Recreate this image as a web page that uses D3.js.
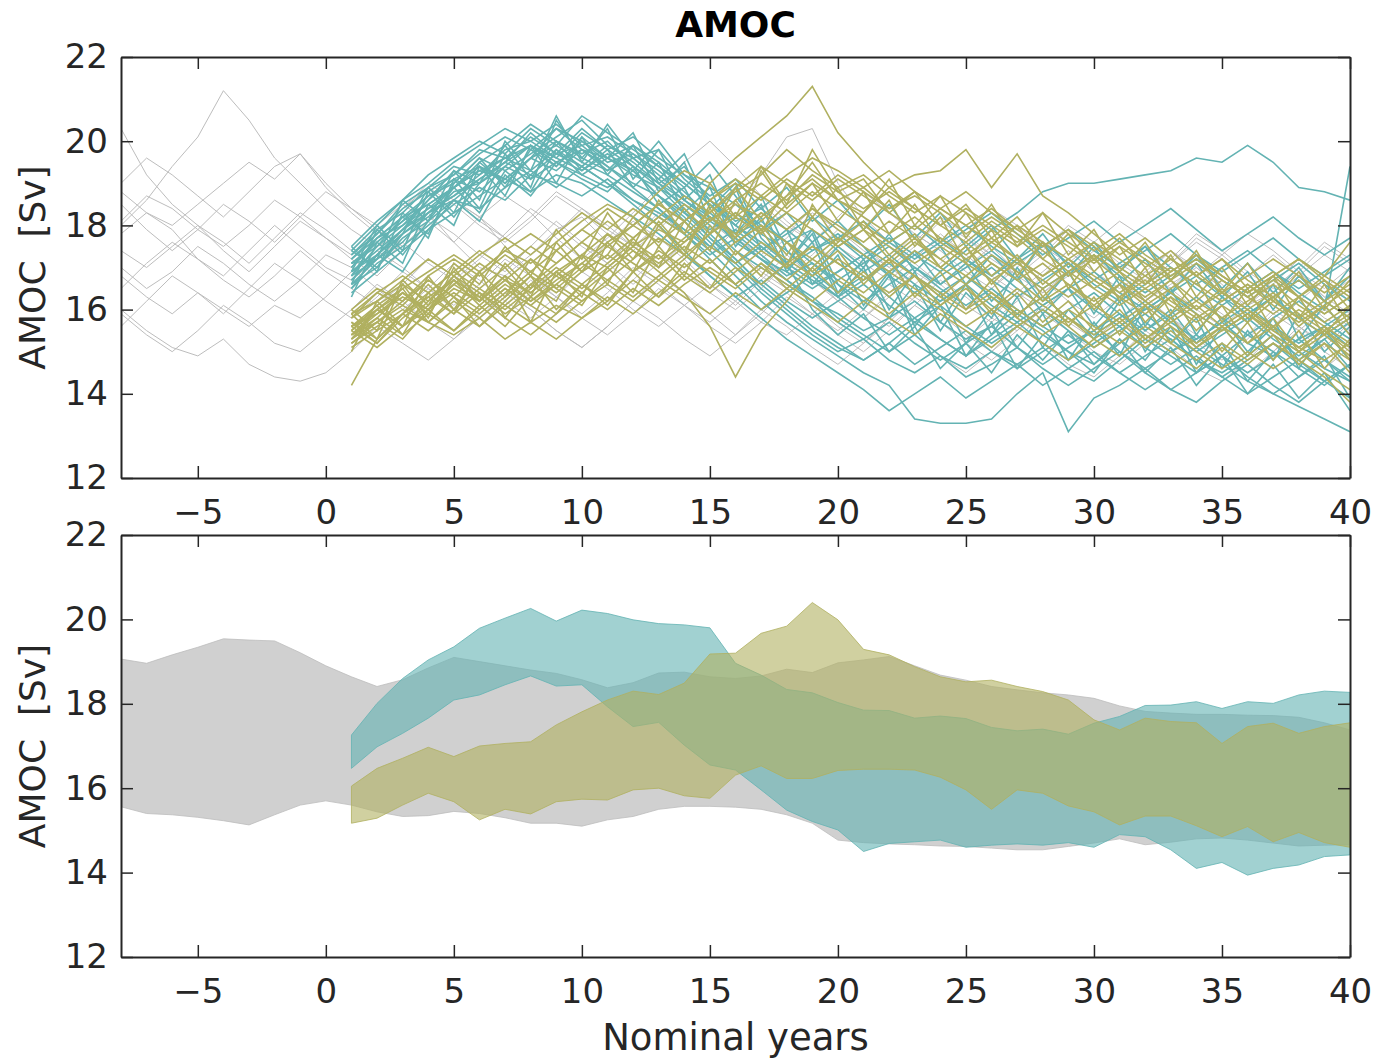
<!DOCTYPE html>
<html>
<head>
<meta charset="utf-8">
<script src="https://cdnjs.cloudflare.com/ajax/libs/d3/7.8.5/d3.min.js"></script>
<style>
  body { margin: 0; background: #fff; }
  svg { display: block; font-family: "DejaVu Sans", sans-serif; }
</style>
</head>
<body>
<div id="chart"></div>
<script>
// ---- data (AMOC, Sv) ----
var controlYears = d3.range(-8, 41);   // -8 .. 40
var runYears = d3.range(1, 41);        // 1 .. 40

var xTicks = [-5, 0, 5, 10, 15, 20, 25, 30, 35, 40];
var yTicks = [12, 14, 16, 18, 20, 22];

// control ensemble (grey), years -8..40
var controlRuns = [
  [18.0,18.6,19.4,20.1,21.2,20.5,19.6,19.0,18.4,17.9, 17.5,17.8,18.3,17.6,17.0,16.8,17.3,17.9,18.2,17.6, 17.1,16.7,17.2,17.8,18.5,19.2,20.1,20.3,19.0,18.2, 17.6,17.1,16.6,17.0,17.5,16.9,16.4,16.8,17.3,16.7, 16.2,16.6,17.0,16.5,16.1,16.4,16.9,16.3,15.9],
  [20.3,19.2,18.5,18.0,17.4,16.9,17.5,18.1,17.7,17.2, 16.8,17.4,17.9,18.6,18.2,17.5,16.9,16.4,16.9,17.6, 18.1,17.7,17.2,16.6,16.1,16.7,17.3,16.8,16.2,15.8, 16.4,17.0,16.6,16.1,15.7,16.2,16.8,17.4,16.9,16.3, 15.9,16.5,17.1,16.6,16.0,15.6,16.2,16.7,16.2],
  [16.0,15.5,15.1,14.9,15.3,14.7,14.4,14.3,14.5,15.0, 15.6,15.2,14.8,15.3,15.9,16.4,16.0,15.5,15.1,15.6, 16.2,16.8,16.4,15.9,15.4,15.9,16.5,16.1,15.6,15.2, 15.7,16.3,15.9,15.4,15.0,15.5,16.1,15.7,15.3,15.8, 16.3,15.8,15.2,14.8,15.3,15.9,15.5,15.0,14.6],
  [17.8,18.3,17.9,17.2,16.8,17.4,18.0,17.5,17.0,16.7, 17.2,17.7,18.2,17.8,17.3,16.9,17.5,18.1,17.6,17.1, 16.6,17.1,17.6,18.0,17.4,16.9,16.5,17.0,17.5,17.1, 16.7,17.2,17.8,17.3,16.8,16.4,16.9,17.4,16.9,16.5, 16.9,17.4,16.9,16.4,16.8,17.3,16.8,16.3,16.7],
  [19.0,19.6,19.2,18.7,18.2,18.8,19.4,19.7,19.0,18.4, 18.0,18.5,18.1,17.6,18.2,18.7,18.3,17.7,17.2,17.7, 18.3,18.9,19.5,20.0,19.4,18.7,18.1,17.6,18.2,18.8, 18.3,17.8,17.4,17.9,18.4,18.0,17.5,17.1,17.6,18.1, 17.7,17.2,16.8,17.3,17.8,17.4,16.9,16.5,17.0],
  [17.0,16.5,16.9,17.5,17.1,16.6,16.2,16.7,17.3,17.0, 16.5,16.0,16.5,17.1,16.7,16.2,15.8,16.3,16.9,16.5, 16.0,15.6,16.1,16.6,16.2,15.7,15.4,15.9,16.4,16.0, 15.6,16.1,16.7,16.3,15.8,15.5,16.0,16.5,16.1,15.7, 15.3,15.8,16.3,15.9,15.4,15.0,15.5,16.0,15.6],
  [18.5,17.9,17.4,17.9,18.5,18.1,17.6,18.2,18.8,18.4, 17.9,17.5,18.1,18.6,18.2,17.7,17.3,17.8,18.4,18.0, 17.5,17.0,17.6,18.1,17.7,17.2,16.8,17.3,17.9,17.5, 17.0,16.6,17.1,17.7,17.3,16.8,16.4,16.9,17.4,17.0, 16.6,17.1,17.6,17.2,16.7,16.3,16.8,17.3,16.9],
  [15.6,16.2,16.8,16.4,15.9,16.5,17.1,16.7,16.2,15.8, 16.3,16.9,16.5,16.0,15.6,16.1,16.7,16.3,15.8,15.4, 15.9,16.5,16.1,15.6,15.2,15.7,16.3,15.9,15.4,15.0, 15.5,16.1,15.7,15.2,14.8,15.3,15.9,15.5,15.0,14.7, 15.2,15.8,15.4,14.9,14.5,15.0,15.6,15.2,14.8],
  [17.4,17.0,17.5,18.0,17.6,17.1,17.7,18.3,17.9,17.4, 17.0,17.6,17.1,16.7,17.2,17.8,18.4,18.0,17.5,17.1, 17.7,18.3,17.8,17.3,17.9,18.5,18.0,17.6,17.1,16.7, 17.2,17.8,17.4,16.9,16.5,17.0,17.6,17.2,16.7,16.3, 16.8,17.4,17.0,16.5,16.1,16.6,17.2,16.8,16.4],
  [16.5,17.1,17.6,17.2,16.7,16.3,16.8,17.4,16.9,16.5, 16.1,16.6,17.2,16.8,16.3,15.9,16.4,17.0,16.6,16.2, 16.7,17.3,16.9,16.4,16.0,16.5,17.1,16.7,16.2,15.8, 16.3,16.9,16.5,16.0,16.5,17.1,16.7,16.2,15.8,16.3, 16.9,16.5,16.0,15.6,16.1,16.7,16.3,15.8,15.5],
  [18.8,18.3,18.0,18.5,19.0,19.5,19.1,19.7,18.9,18.3, 17.8,18.4,18.9,18.5,18.0,17.6,18.1,18.7,18.3,17.8, 17.4,17.9,18.5,18.1,17.6,17.2,17.7,18.3,17.9,17.4, 17.0,17.5,18.1,17.7,17.2,16.8,17.3,17.9,17.5,17.0, 16.6,17.1,17.7,17.3,16.8,16.4,16.9,17.5,17.1],
  [16.8,16.3,15.9,16.4,16.0,15.6,16.1,15.8,16.3,16.9, 17.4,17.0,16.5,16.1,16.6,17.2,16.8,16.3,15.9,16.4, 17.0,16.6,16.1,15.7,16.2,16.8,16.4,15.9,15.5,16.0, 16.6,16.2,15.7,15.3,15.8,16.4,16.0,15.5,15.1,15.6, 16.2,15.8,15.3,14.9,15.4,16.0,15.6,15.1,15.7],
  [18.1,18.7,18.4,17.9,17.5,18.0,18.6,18.2,17.7,17.3, 17.8,18.4,19.0,18.6,18.1,17.7,18.2,18.8,18.4,17.9, 17.5,18.0,18.6,18.2,17.7,17.3,17.8,18.4,18.0,17.5, 17.1,17.6,18.2,17.8,17.3,16.9,17.4,18.0,17.6,17.1, 16.7,17.2,17.8,17.4,16.9,16.5,17.0,17.6,17.2],
  [15.9,15.4,15.0,15.5,16.1,15.7,15.2,15.0,15.5,16.0, 16.6,16.2,15.7,15.3,15.8,16.4,16.0,15.5,15.1,15.6, 16.2,15.8,15.3,14.9,15.4,16.0,15.6,15.1,14.7,15.2, 15.8,15.4,14.9,14.5,15.0,15.6,15.2,14.7,14.4,14.9, 15.5,15.1,14.6,14.3,14.8,15.4,15.0,14.6,15.1]
];

// teal ensemble, years 1..40
var tealRuns = [
  [17.0,17.6,18.1,18.5,18.9,19.3,19.6,19.9,19.5,19.8, 19.6,19.2,18.9,18.5,18.0,17.4,17.0,16.6,16.2,15.9, 15.5,15.8,16.2,15.7,15.3,15.6,16.0,15.6,15.2,15.5, 15.9,15.4,15.0,15.3,15.7,15.2,14.9,15.3,15.6,15.1],
  [16.7,17.3,17.9,18.4,18.7,19.1,19.5,20.2,19.7,19.4, 19.9,19.5,19.0,18.4,17.7,17.1,16.5,16.0,15.5,15.1, 14.8,15.2,15.7,15.3,14.9,15.4,15.9,15.5,15.0,14.7, 15.2,15.7,15.3,14.8,14.5,14.9,15.4,15.0,14.6,14.3],
  [17.3,17.9,18.3,18.9,19.4,19.2,19.8,20.0,20.4,19.9, 20.1,19.7,19.3,18.8,18.2,17.6,17.2,16.9,16.5,16.9, 17.3,16.8,16.4,16.8,17.2,16.7,16.3,16.7,17.1,16.6, 16.2,16.6,17.0,16.5,16.1,16.5,16.9,16.4,16.0,19.4],
  [16.5,17.1,17.5,18.0,18.5,18.9,18.6,19.2,19.0,18.7, 19.1,18.6,18.2,17.8,17.3,17.7,17.2,16.7,16.3,15.8, 15.4,15.0,15.4,14.9,14.6,15.0,14.7,15.1,14.6,14.3, 14.8,15.3,14.9,14.5,14.9,15.4,15.0,14.6,14.2,14.7],
  [17.1,17.5,18.2,18.7,19.0,19.6,19.3,19.7,20.1,20.5, 19.9,19.6,19.8,19.1,18.6,18.1,18.4,17.9,17.4,17.7, 18.1,17.6,17.2,17.6,18.0,17.5,17.1,17.5,17.9,17.4, 17.0,17.4,17.8,17.3,16.9,17.3,17.7,17.2,16.8,17.2],
  [16.8,17.2,17.8,18.2,18.8,19.0,19.4,19.1,19.5,19.2, 18.9,19.3,18.7,18.2,17.6,17.0,16.4,15.9,15.4,15.0, 15.3,14.8,14.5,14.9,14.4,14.7,15.1,14.6,14.2,14.6, 15.0,14.5,14.1,14.5,14.9,14.4,14.0,14.4,14.8,14.3],
  [17.4,18.0,18.6,19.0,19.5,19.9,20.3,20.0,19.6,20.2, 19.8,20.1,19.6,19.2,18.9,18.5,18.0,17.6,17.9,17.4, 16.9,17.3,16.8,16.4,16.8,16.3,15.9,16.3,15.8,15.4, 15.8,16.2,15.7,15.3,15.7,16.1,15.6,15.2,15.6,16.0],
  [16.6,17.0,17.7,18.1,18.6,18.4,18.9,19.3,18.9,19.4, 19.0,18.6,18.3,17.9,17.4,16.8,16.2,15.7,15.3,14.9, 14.5,14.2,13.4,13.3,13.3,13.4,14.0,14.5,13.1,13.9, 14.2,14.6,14.1,13.8,14.3,14.7,14.2,13.8,14.3,14.7],
  [17.2,17.8,18.4,18.8,19.2,19.7,20.1,19.8,20.3,20.0, 19.5,19.7,19.2,18.7,18.3,17.8,17.3,16.8,17.1,16.6, 16.2,16.6,17.0,16.5,16.1,16.5,16.0,15.6,16.0,16.4, 15.9,15.5,15.9,16.3,15.8,15.4,15.8,16.2,15.7,15.3],
  [16.9,17.4,17.9,18.6,19.1,18.8,19.4,19.9,19.6,19.3, 19.7,19.3,18.7,18.1,17.5,17.9,17.4,17.8,18.2,17.7, 17.2,17.6,18.0,17.5,17.9,18.3,17.8,17.3,17.7,18.1, 17.6,18.0,18.4,17.9,17.4,17.8,18.2,17.7,17.3,17.7],
  [17.0,17.7,18.0,18.4,18.9,19.4,19.0,19.6,19.9,19.5, 19.2,18.8,18.4,17.9,17.5,17.1,17.5,17.0,16.6,16.9, 17.3,17.7,17.3,16.9,17.4,17.9,18.3,18.8,19.0,19.0, 19.1,19.2,19.3,19.6,19.5,19.9,19.5,18.9,18.8,18.6],
  [16.6,17.2,17.6,18.3,18.7,19.2,19.6,19.3,19.8,19.4, 19.0,18.5,18.0,17.4,16.8,16.3,16.7,16.2,15.8,16.2, 16.6,16.1,15.7,16.1,15.6,15.2,15.6,16.0,15.5,15.1, 15.5,15.9,15.4,15.0,15.4,15.8,15.3,14.9,15.3,15.7],
  [17.2,17.7,18.2,18.5,18.9,19.5,19.9,20.4,20.0,19.7, 20.0,19.4,19.0,18.6,18.1,17.7,17.2,16.7,16.2,15.7, 15.3,15.7,15.2,14.8,15.2,15.6,15.1,14.7,15.1,15.5, 15.0,14.6,15.0,15.4,14.9,14.5,14.9,15.3,14.8,14.4],
  [16.8,17.5,18.0,18.6,19.3,19.0,19.5,19.2,19.7,19.9, 19.4,19.0,18.7,18.3,17.9,18.3,17.8,17.4,16.9,16.4, 16.8,16.3,15.8,16.2,16.6,16.1,15.7,16.1,16.5,16.0, 15.6,16.0,16.4,15.9,15.5,15.9,16.3,15.8,15.4,15.8],
  [17.1,17.6,18.1,18.7,19.1,19.4,19.1,19.6,19.3,19.8, 19.4,18.9,18.4,17.8,17.2,16.6,16.0,16.4,16.8,16.3, 15.8,15.4,15.8,15.3,14.9,15.3,15.7,15.2,14.8,15.2, 15.6,15.1,14.7,15.1,14.7,14.3,14.0,13.7,13.4,13.1],
  [16.9,17.3,17.9,18.3,18.6,19.1,19.5,19.9,19.4,20.0, 19.6,19.9,19.5,19.0,18.5,18.0,17.5,17.0,17.4,17.8, 17.3,16.9,17.3,17.7,17.2,16.8,17.2,17.6,17.1,16.7, 17.1,17.5,17.0,16.6,17.0,17.4,16.9,16.5,16.9,17.3],
  [17.3,17.8,18.5,18.9,19.2,19.8,19.6,20.1,19.7,20.3, 19.8,19.4,18.9,18.3,17.7,17.2,16.6,16.1,15.6,15.2, 14.8,15.2,14.7,15.1,15.5,15.0,14.6,15.0,15.4,14.9, 14.5,14.9,15.3,14.8,14.4,14.8,15.2,14.7,14.3,14.7],
  [16.7,17.3,17.8,18.3,18.9,19.3,19.1,19.6,20.0,19.6, 19.3,19.6,19.1,18.6,18.2,17.8,18.1,17.6,17.1,16.7, 17.1,17.5,17.0,16.6,17.0,17.4,16.9,16.5,16.9,17.3, 16.8,16.4,16.8,17.2,16.7,16.3,16.7,17.1,16.6,16.2],
  [17.5,18.1,18.6,19.2,19.6,20.0,19.7,20.3,19.9,20.6, 20.2,19.8,19.4,19.0,18.5,18.0,17.6,17.1,16.7,16.3, 16.7,17.1,16.6,16.2,16.6,17.0,16.5,16.1,16.5,16.9, 16.4,16.0,16.4,16.8,16.3,15.9,16.3,16.7,16.2,15.8],
  [16.4,16.9,17.4,17.9,18.3,18.7,19.1,18.8,19.2,19.0, 18.6,18.2,17.8,17.3,16.8,16.3,15.8,15.3,14.9,14.5, 14.1,13.6,14.0,14.4,13.9,14.3,14.7,14.2,14.6,15.0, 14.5,14.1,14.5,14.9,14.4,14.0,14.4,14.8,14.3,13.9],
  [16.3,17.6,17.1,18.5,18.0,19.4,18.7,19.9,19.0,20.1, 19.2,19.9,18.8,19.5,18.1,18.9,17.4,17.9,16.6,17.3, 16.1,16.9,15.6,16.4,15.2,16.0,15.1,15.9,14.8,15.7, 14.9,16.1,15.2,15.8,14.6,15.5,14.8,15.9,15.0,15.6],
  [17.5,16.9,18.3,17.7,19.1,18.4,19.7,18.9,20.5,19.6, 20.3,19.1,19.8,18.6,19.2,17.8,18.5,17.1,17.8,16.4, 17.2,16.0,16.9,15.7,16.6,15.4,16.3,15.1,16.0,15.3, 16.2,15.0,15.9,14.7,15.6,14.9,15.8,14.6,15.5,14.8],
  [16.9,18.0,17.4,18.8,18.2,19.0,19.9,19.1,20.0,19.3, 19.8,18.9,19.5,18.3,18.9,17.5,18.2,16.9,17.6,16.3, 17.0,15.8,16.6,15.5,16.4,15.8,17.0,16.2,16.9,15.9, 16.8,15.6,16.5,15.4,16.3,15.7,16.6,15.3,16.1,15.4],
  [17.1,17.2,18.6,18.1,19.3,18.6,20.0,19.3,20.6,19.5, 20.4,19.6,19.1,19.7,18.4,19.0,17.7,17.1,17.9,16.6, 16.0,16.8,15.4,16.1,14.9,15.7,14.6,15.4,15.0,14.5, 15.3,14.8,15.6,14.5,15.2,14.3,15.0,14.4,14.9,13.9],
  [16.6,17.9,17.3,18.1,18.9,18.3,19.3,18.8,19.8,19.2, 19.6,20.2,19.0,19.4,18.6,18.0,18.7,17.4,16.8,17.5, 17.0,17.8,16.9,17.5,16.6,17.3,16.7,17.6,16.8,17.5, 16.6,17.2,16.4,17.1,16.3,16.9,16.0,16.8,16.2,17.0],
  [17.4,17.0,17.8,18.9,18.3,19.5,19.0,19.6,20.3,19.8, 19.3,19.9,19.4,18.9,19.5,18.7,17.9,18.3,17.6,18.1, 17.5,16.8,17.4,16.6,17.1,16.2,16.8,15.9,16.5,15.6, 16.3,15.5,16.0,15.2,15.8,15.0,15.6,14.8,15.3,14.6],
  [16.8,17.7,18.2,17.8,19.0,19.6,18.9,19.8,19.4,20.1, 19.6,19.3,20.0,19.2,18.7,19.1,18.4,18.9,18.1,18.6, 17.9,18.5,17.7,18.3,17.5,18.0,17.2,17.8,17.0,17.6, 16.9,17.5,16.7,17.3,16.5,17.1,16.4,17.0,16.2,16.8],
  [16.5,17.3,16.9,17.9,18.6,18.1,19.2,18.7,19.5,19.1, 18.8,19.4,18.5,18.9,17.8,17.2,16.6,17.1,16.0,15.4, 15.9,15.0,15.6,14.6,15.2,14.5,15.4,14.8,15.5,14.7, 15.3,14.5,15.1,14.2,14.9,14.0,14.7,13.9,14.5,13.6]
];

// olive ensemble, years 1..40
var oliveRuns = [
  [15.4,15.9,16.3,16.0,16.5,16.2,16.7,16.4,16.9,17.3, 17.0,17.5,17.9,17.6,18.1,18.5,18.2,18.7,19.1,18.6, 18.2,17.8,18.2,17.7,17.3,17.7,17.2,16.8,17.2,16.7, 16.3,16.7,16.2,15.8,16.2,16.6,16.1,15.7,16.1,16.5],
  [15.8,16.4,16.1,16.7,16.3,16.9,17.4,17.1,17.6,18.1, 18.5,18.2,18.8,19.3,19.0,19.6,20.1,20.6,21.3,20.2, 19.5,18.9,18.4,18.0,17.6,18.1,17.7,17.2,16.8,17.2, 16.7,16.3,16.7,16.2,15.8,16.2,16.6,16.1,15.7,16.1],
  [14.2,15.3,15.9,15.5,16.0,15.6,16.1,15.7,15.3,15.8, 16.3,15.9,16.4,16.9,16.5,17.0,16.6,17.1,17.5,17.1, 16.7,17.2,16.8,16.3,16.8,16.4,15.9,16.3,15.8,15.4, 15.8,15.3,15.7,16.1,15.6,15.2,15.6,15.1,14.8,15.2],
  [15.6,15.2,15.8,16.3,15.9,16.4,16.0,16.5,17.0,16.6, 17.1,17.6,17.2,17.7,18.2,17.8,18.3,17.9,18.4,18.0, 17.6,18.1,17.7,17.2,17.6,17.1,16.7,17.1,16.6,16.2, 16.6,16.1,16.5,16.9,16.4,16.0,16.4,15.9,15.5,15.9],
  [15.3,15.7,16.2,16.7,16.3,15.9,16.4,16.9,16.5,17.0, 17.5,17.1,16.7,17.2,17.8,18.3,17.9,18.5,19.0,18.6, 18.9,18.4,18.7,18.3,17.8,18.2,17.8,17.4,16.9,17.3, 16.9,16.5,16.9,17.3,16.8,16.4,16.8,17.2,16.7,16.3],
  [15.9,16.2,16.6,16.2,16.8,16.4,15.9,16.3,16.8,16.4, 16.9,17.4,17.0,17.5,17.1,17.6,18.0,17.6,17.2,17.7, 17.3,16.9,17.4,17.0,16.6,17.1,16.7,16.2,16.6,16.1, 15.7,16.1,15.6,15.2,15.6,16.0,15.5,15.1,15.5,15.0],
  [15.5,16.0,15.6,16.1,16.6,17.1,16.7,16.2,16.6,17.1, 17.6,18.0,17.6,18.1,18.6,19.0,18.6,19.1,18.7,19.2, 18.8,18.4,18.8,18.4,18.0,18.4,17.9,17.5,17.9,17.5, 17.0,16.6,17.0,16.6,16.2,16.6,16.2,15.8,16.2,16.6],
  [15.2,15.6,16.0,15.7,15.4,15.8,15.3,15.7,16.1,15.8, 16.2,16.7,16.3,16.8,16.4,16.9,17.4,17.0,17.5,17.1, 16.7,17.2,16.8,16.3,15.9,16.3,15.8,15.4,15.8,15.3, 15.7,15.2,15.6,15.1,15.5,15.9,15.4,15.0,15.4,14.9],
  [16.0,16.5,16.2,16.8,17.2,16.8,17.3,16.9,17.4,17.9, 17.5,18.0,18.5,18.1,18.6,19.1,18.7,19.2,19.6,19.3, 18.9,19.3,18.8,18.4,18.8,18.3,17.9,18.3,17.8,17.4, 17.8,17.3,16.9,17.3,16.8,16.4,16.8,16.3,15.9,16.3],
  [15.4,15.8,16.4,16.0,15.5,16.0,16.5,16.1,16.6,16.2, 16.7,16.3,16.8,17.3,16.9,16.5,17.0,16.6,16.2,16.7, 16.3,15.9,16.4,16.0,15.6,16.0,16.5,16.1,15.7,16.1, 16.6,16.2,15.8,16.2,16.7,16.3,15.9,16.3,16.8,16.4],
  [15.7,15.3,15.9,16.4,16.9,16.5,16.1,16.6,17.1,17.6, 17.2,17.7,18.2,17.8,18.3,18.9,19.4,19.0,18.6,19.1, 18.7,18.3,17.9,18.4,18.0,17.6,18.0,17.6,17.2,17.6, 17.2,16.8,17.2,16.8,16.4,16.8,17.2,16.8,16.4,16.8],
  [15.1,15.5,15.9,16.3,16.7,16.3,15.8,15.4,15.9,16.4, 16.0,16.5,16.1,16.6,17.0,16.6,17.1,16.7,17.2,16.8, 16.4,16.9,16.5,16.1,16.5,16.0,15.6,16.0,15.6,15.1, 15.5,15.1,15.5,15.0,14.6,15.0,14.6,15.0,14.5,14.1],
  [15.6,16.1,16.5,16.9,17.3,16.9,17.4,17.8,17.4,17.9, 18.4,18.0,18.5,18.1,18.6,18.2,18.7,18.3,18.8,18.4, 18.0,17.6,18.0,17.6,17.2,17.6,17.2,16.8,17.2,16.8, 16.4,16.8,16.4,16.0,16.4,16.0,15.6,16.0,15.6,15.2],
  [15.3,15.8,15.4,15.9,15.5,16.1,16.6,16.2,16.7,17.1, 16.7,17.2,17.7,17.3,17.8,18.2,17.8,18.3,17.9,17.5, 17.9,17.5,17.1,17.5,17.1,16.7,17.1,16.7,16.3,16.7, 16.3,15.9,16.3,15.9,15.5,15.9,15.5,15.1,15.5,15.1],
  [15.9,16.4,16.8,16.4,16.9,17.4,17.0,17.5,17.1,17.6, 18.1,17.7,18.2,18.7,18.3,18.8,19.2,19.8,19.3,18.9, 19.2,18.7,18.3,18.7,18.3,17.9,17.5,17.9,17.5,17.1, 17.5,17.1,16.7,17.1,16.7,16.3,16.7,16.3,15.9,16.3],
  [15.5,15.1,15.6,16.0,16.4,16.0,16.5,16.1,15.7,16.2, 16.6,16.2,16.7,16.3,15.9,16.4,16.0,16.5,16.1,15.7, 16.2,15.8,15.4,15.9,15.5,15.1,15.6,15.2,14.8,15.3, 14.9,15.4,15.0,14.6,15.1,14.7,15.2,14.8,14.4,13.8],
  [15.8,16.2,16.7,17.2,16.8,17.3,17.7,17.3,17.8,18.3, 17.9,18.4,18.0,18.5,18.1,18.6,19.0,18.6,19.2,18.8, 18.4,18.8,18.4,18.0,18.4,18.0,17.6,18.0,17.6,17.2, 17.6,17.2,16.8,17.2,16.8,16.4,16.8,17.2,16.8,17.6],
  [15.2,15.7,16.1,15.7,16.2,15.8,16.3,16.8,16.4,16.9, 17.3,16.9,17.4,17.0,17.5,17.1,17.6,17.2,16.8,17.2, 16.8,16.4,16.8,16.4,16.0,16.4,16.0,15.6,16.0,15.6, 15.2,15.6,15.2,14.8,15.2,14.8,15.2,14.8,15.2,14.8],
  [15.6,16.0,16.4,16.0,16.6,16.2,16.7,17.2,16.8,17.3, 17.8,17.4,16.9,16.4,15.6,14.4,15.5,16.2,17.0,17.6, 18.3,18.9,19.2,19.3,19.8,18.9,19.7,18.7,18.3,17.8, 17.3,17.7,17.2,16.8,17.2,16.7,16.3,16.7,16.2,15.8],
  [15.4,16.0,15.6,16.2,16.7,16.3,16.8,16.4,16.9,16.5, 17.0,17.5,17.1,17.6,18.2,17.7,18.3,17.9,18.4,17.9, 17.5,17.1,17.6,17.2,16.8,17.3,16.9,16.5,16.9,16.5, 16.1,16.5,16.1,15.7,16.1,15.7,16.2,15.8,15.4,15.8],
  [15.0,16.2,15.6,16.8,16.0,16.9,15.8,16.6,16.2,17.3, 16.6,17.7,17.0,18.1,17.4,18.6,17.8,19.0,18.2,18.9, 17.9,18.6,17.5,18.2,17.1,17.9,16.8,17.6,16.5,17.3, 16.2,17.0,15.9,16.7,15.7,16.5,15.5,16.3,15.4,16.1],
  [15.9,15.3,16.6,15.8,17.0,16.2,16.8,15.7,16.9,16.3, 17.6,16.9,18.0,17.3,18.5,17.7,19.3,18.4,19.0,18.1, 18.8,17.8,18.5,17.6,18.3,17.4,18.0,17.2,17.8,16.9, 17.5,16.6,17.3,16.3,17.0,16.1,16.8,15.8,16.6,15.6],
  [15.5,16.1,15.4,16.4,15.9,16.9,16.3,17.2,16.5,16.1, 17.0,16.4,17.5,16.8,18.0,17.3,17.9,17.0,18.5,17.6, 18.1,17.3,17.8,17.0,17.5,16.6,17.2,16.3,16.9,16.0, 16.6,15.7,16.3,15.5,16.1,15.2,15.8,15.0,15.6,14.8],
  [15.7,15.2,15.9,16.6,16.0,16.5,17.0,16.3,17.6,16.9, 17.3,18.2,17.5,18.4,17.8,18.9,18.1,18.7,19.5,18.6, 18.3,19.1,18.0,18.7,17.7,18.5,17.5,18.3,17.3,17.9, 16.9,17.6,16.7,17.4,16.4,17.1,16.2,16.9,16.0,16.7],
  [15.3,16.0,16.5,15.7,16.3,15.6,16.2,16.8,16.0,16.6, 16.1,16.9,16.3,17.1,16.5,17.4,16.8,17.6,16.9,17.4, 16.6,17.2,16.3,16.9,16.0,16.7,15.8,16.5,15.6,16.3, 15.4,16.1,15.2,15.9,15.0,15.7,14.8,15.5,14.6,15.3],
  [16.0,15.5,16.7,16.1,17.1,16.6,17.5,16.8,17.9,17.2, 18.3,17.5,18.6,17.8,19.0,18.2,19.4,18.5,19.8,18.8, 19.1,18.3,18.8,18.0,18.5,17.7,18.2,17.5,17.9,17.2, 17.7,17.0,17.4,16.8,17.2,16.5,16.9,16.3,16.7,16.0],
  [15.6,15.9,16.4,15.9,16.7,16.1,15.6,16.3,15.9,16.6, 16.2,16.9,17.3,16.7,17.2,16.6,17.1,16.5,17.0,16.4, 16.9,16.3,16.8,16.1,16.6,15.9,16.4,15.7,16.2,15.5, 16.0,15.3,15.8,15.1,15.6,14.9,15.4,14.7,15.2,14.5],
  [15.4,15.7,15.3,16.0,16.8,16.2,17.1,16.5,17.4,16.9, 17.8,17.2,18.1,17.4,18.4,17.6,18.0,17.3,18.2,17.5, 17.9,17.2,17.7,17.0,17.5,16.8,17.3,16.6,17.1,16.5, 16.9,16.2,16.7,16.0,16.5,15.8,16.3,15.6,16.1,15.4]
];

// spread envelopes (lower panel)
var controlLow  = [15.56,15.4,15.37,15.31,15.23,15.13,15.37,15.6,15.7,15.6, 15.44,15.33,15.35,15.45,15.4,15.3,15.17,15.17,15.1,15.25, 15.33,15.5,15.57,15.57,15.55,15.5,15.37,15.17,14.77,14.71, 14.68,14.66,14.63,14.62,14.58,14.54,14.54,14.62,14.7,14.8, 14.66,14.72,14.8,14.82,14.77,14.7,14.63,14.65,14.66];
var controlHigh = [19.06,18.96,19.16,19.34,19.54,19.51,19.49,19.21,18.9,18.64, 18.41,18.57,18.85,19.1,19.0,18.9,18.8,18.72,18.57,18.38, 18.5,18.73,18.75,18.64,18.6,18.66,18.82,18.74,18.97,19.04, 19.12,18.9,18.68,18.56,18.41,18.33,18.26,18.21,18.13,17.95, 17.82,17.78,17.75,17.75,17.73,17.72,17.68,17.55,17.38];
var tealLow  = [16.47,16.98,17.3,17.66,18.09,18.21,18.45,18.66,18.42,18.45, 17.93,17.46,17.56,17.02,16.55,16.43,15.96,15.48,15.21,15.01, 14.5,14.69,14.73,14.77,14.6,14.65,14.68,14.65,14.71,14.6, 14.9,14.85,14.54,14.1,14.24,13.94,14.1,14.18,14.38,14.42];
var tealHigh = [17.26,18.01,18.6,19.04,19.35,19.79,20.03,20.26,19.96,20.22, 20.14,19.99,19.9,19.87,19.8,18.96,18.68,18.34,18.26,18.03, 17.85,17.84,17.66,17.71,17.65,17.44,17.36,17.4,17.28,17.54, 17.7,17.96,17.97,18.05,17.89,18.05,18.01,18.21,18.3,18.27];
var oliveLow  = [15.17,15.29,15.6,15.88,15.68,15.25,15.5,15.39,15.68,15.74, 15.72,15.96,16.0,15.82,15.76,16.31,16.53,16.23,16.23,16.42, 16.45,16.45,16.43,16.26,15.96,15.5,15.96,15.88,15.58,15.44, 15.13,15.34,15.34,15.11,14.85,15.09,14.73,14.95,14.71,14.6];
var oliveHigh = [16.05,16.47,16.71,16.97,16.75,17.0,17.06,17.1,17.5,17.81, 18.09,18.3,18.22,18.49,19.18,19.2,19.67,19.84,20.4,19.99, 19.29,19.16,18.88,18.64,18.52,18.56,18.41,18.29,18.09,17.62, 17.38,17.66,17.58,17.55,17.06,17.46,17.54,17.3,17.46,17.55];

// ---- colours ----
var greyLine = "#bdbdbd", tealColor = "#63b3b3", oliveColor = "#b0b060", greyFill = "#d0d0d0";
var axisColor = "#262626";

var W = 1379, H = 1058;
var margin = { left: 121, right: 1350 };

var svg = d3.select("#chart").append("svg")
    .attr("width", W)
    .attr("height", H);

var x = d3.scaleLinear().domain([-8, 40]).range([margin.left, margin.right]);

function minus(d) { return d < 0 ? "\u2212" + Math.abs(d) : String(d); }

/*
 * build one panel: returns {g, plot, y}
 */
function makePanel(id, top, bottom) {
    var y = d3.scaleLinear().domain([12, 22]).range([bottom, top]);
    var g = svg.append("g").attr("class", "panel-" + id);

    svg.append("clipPath").attr("id", "clip-" + id)
      .append("rect")
        .attr("x", margin.left).attr("y", top)
        .attr("width", margin.right - margin.left)
        .attr("height", bottom - top);

    var plot = g.append("g").attr("clip-path", "url(#clip-" + id + ")");
    return { g: g, plot: plot, y: y, top: top, bottom: bottom };
}

function drawAxes(p) {
    var g = p.g;
    var tick = 12;

    var xb = g.append("g").attr("transform", "translate(0," + p.bottom + ")")
        .call(d3.axisBottom(x).tickValues(xTicks).tickSizeInner(-tick).tickSizeOuter(0).tickPadding(22).tickFormat(minus));
    var xt = g.append("g").attr("transform", "translate(0," + p.top + ")")
        .call(d3.axisTop(x).tickValues(xTicks).tickSizeInner(-tick).tickSizeOuter(0).tickFormat(""));
    var yl = g.append("g").attr("transform", "translate(" + margin.left + ",0)")
        .call(d3.axisLeft(p.y).tickValues(yTicks).tickSizeInner(-tick).tickSizeOuter(0).tickPadding(13));
    var yr = g.append("g").attr("transform", "translate(" + margin.right + ",0)")
        .call(d3.axisRight(p.y).tickValues(yTicks).tickSizeInner(-tick).tickSizeOuter(0).tickFormat(""));

    [xb, xt, yl, yr].forEach(function(a) {
        a.select(".domain").attr("stroke", axisColor).attr("stroke-width", 2);
        a.selectAll(".tick line").attr("stroke", axisColor).attr("stroke-width", 1.5);
        a.selectAll(".tick text")
            .attr("fill", axisColor)
            .style("font-family", "'DejaVu Sans', sans-serif")
            .style("font-size", "34px");
    });

    g.append("text")
        .attr("transform", "translate(32," + ((p.top + p.bottom) / 2) + ") rotate(-90)")
        .attr("text-anchor", "middle")
        .attr("dominant-baseline", "central")
        .attr("fill", axisColor)
        .style("font-size", "36px")
        .style("white-space", "pre")
        .text("AMOC  [Sv]");
}

// ---- top panel: ensemble members ----
var upper = makePanel("top", 57, 478);

var lineFor = function(yrs) {
    return d3.line()
        .x(function(d, i) { return x(yrs[i]); })
        .y(function(d) { return upper.y(d); });
};

upper.plot.selectAll(".ctrl")
    .data(controlRuns).enter()
    .append("path")
    .attr("class", "ctrl")
    .attr("fill", "none")
    .attr("stroke", greyLine)
    .attr("stroke-width", 1)
    .attr("d", lineFor(controlYears));

upper.plot.selectAll(".teal")
    .data(tealRuns).enter()
    .append("path")
    .attr("class", "teal")
    .attr("fill", "none")
    .attr("stroke", tealColor)
    .attr("stroke-width", 1.6)
    .attr("d", lineFor(runYears));

upper.plot.selectAll(".olive")
    .data(oliveRuns).enter()
    .append("path")
    .attr("class", "olive")
    .attr("fill", "none")
    .attr("stroke", oliveColor)
    .attr("stroke-width", 1.6)
    .attr("d", lineFor(runYears));

drawAxes(upper);

// ---- bottom panel: spread bands ----
var lower = makePanel("bottom", 535, 957);

function bandData(yrs, lo, hi) {
    return yrs.map(function(yv, i) { return { year: yv, lo: lo[i], hi: hi[i] }; });
}

var area = d3.area()
    .x(function(d) { return x(d.year); })
    .y0(function(d) { return lower.y(d.lo); })
    .y1(function(d) { return lower.y(d.hi); });

var bands = [
    { data: bandData(controlYears, controlLow, controlHigh), fill: greyFill, op: 1, edge: "#bdbdbd" },
    { data: bandData(runYears, tealLow, tealHigh), fill: tealColor, op: 0.6, edge: tealColor },
    { data: bandData(runYears, oliveLow, oliveHigh), fill: oliveColor, op: 0.6, edge: oliveColor }
];

lower.plot.selectAll(".band")
    .data(bands).enter()
    .append("path")
    .attr("class", "band")
    .attr("d", function(d) { return area(d.data); })
    .attr("fill", function(d) { return d.fill; })
    .attr("fill-opacity", function(d) { return d.op; })
    .attr("stroke", function(d) { return d.edge; })
    .attr("stroke-opacity", 0.8)
    .attr("stroke-width", 1);

drawAxes(lower);

// ---- titles ----
svg.append("text")
    .attr("x", (margin.left + margin.right) / 2)
    .attr("y", 37)
    .attr("text-anchor", "middle")
    .attr("fill", "#000")
    .style("font-size", "36px")
    .style("font-weight", "bold")
    .text("AMOC");

svg.append("text")
    .attr("x", (margin.left + margin.right) / 2)
    .attr("y", 1050)
    .attr("text-anchor", "middle")
    .attr("fill", axisColor)
    .style("font-size", "37px")
    .text("Nominal years");
</script>
</body>
</html>
